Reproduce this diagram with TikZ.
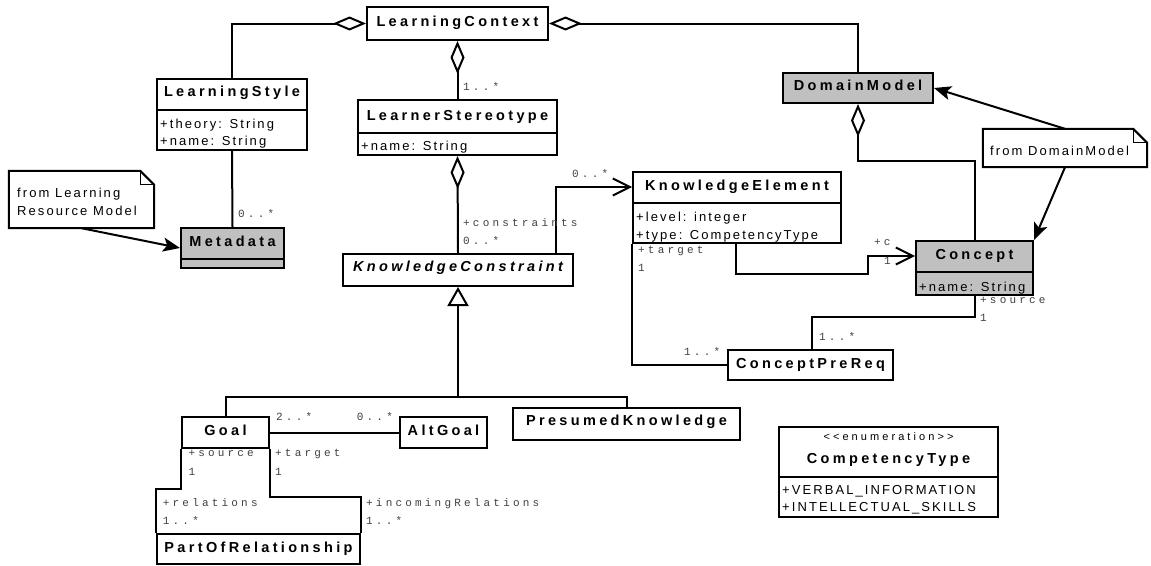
\documentclass[tikz,border=0pt]{standalone}
\usepackage{fontspec}
\usetikzlibrary{arrows.meta}
\newfontfamily\ttlfont[LetterSpace=23]{Liberation Sans}
\newfontfamily\attrfont[LetterSpace=16]{Liberation Sans}
\newfontfamily\notefont[LetterSpace=16]{Liberation Sans}
\newfontfamily\stereofont[LetterSpace=28]{Liberation Sans}
\newfontfamily\multfont[LetterSpace=29]{Liberation Mono}
\tikzset{
  cls/.style={draw, line width=2pt, inner sep=0pt, rectangle},
  grayfill/.style={fill={rgb,255:red,192;green,192;blue,192}},
  ttl/.style={anchor=base, inner sep=0pt, font=\ttlfont\bfseries\fontsize{14.5}{16}\selectfont},
  ttlit/.style={ttl, font=\ttlfont\bfseries\itshape\fontsize{14.5}{16}\selectfont},
  attr/.style={anchor=base west, inner sep=0pt, font=\attrfont\fontsize{13}{14}\selectfont},
  notetext/.style={anchor=base west, inner sep=0pt, font=\notefont\fontsize{13}{14}\selectfont},
  stereo/.style={anchor=base, inner sep=0pt, font=\stereofont\fontsize{11}{12}\selectfont},
  mult/.style={anchor=base west, inner sep=0pt, text=black!75, font=\multfont\fontsize{11}{12}\selectfont},
  conn/.style={line width=2pt},
  divider/.style={line width=2pt},
  aggr/.style={conn, {Diamond[open, length=33pt, width=14pt]}-},
  nav/.style={conn, -{Straight Barb[length=17pt, width=17pt]}},
  dep/.style={conn, -{Stealth[length=17pt, width=14pt, inset=4pt]}},
  gen/.style={conn, {Triangle[open, length=19pt, width=21pt]}-},
  noteanchor/.style={inner sep=0pt, rectangle},
  noteline/.style={line width=2pt, line join=miter},
  foldline/.style={line width=1pt},
}
\begin{document}
\begin{tikzpicture}[x=1pt, y=-1pt]
\fill[white] (0,0) rectangle (1151,565);
\useasboundingbox (0,0) rectangle (1151,565);

% ---- class boxes ----
\node[cls, minimum width=181pt, minimum height=33pt] (lc) at (457.5,23.5) {};
\node[cls, minimum width=150pt, minimum height=71pt] (ls) at (232,114.5) {};
\node[cls, minimum width=199pt, minimum height=55pt] (lst) at (457.5,127.5) {};
\node[cls, grayfill, minimum width=103pt, minimum height=40pt] (md) at (232.5,248) {};
\node[cls, minimum width=230pt, minimum height=32pt] (kc) at (458,270) {};
\node[cls, minimum width=208pt, minimum height=71pt] (ke) at (737,207.5) {};
\node[cls, grayfill, minimum width=150pt, minimum height=30pt] (dm) at (858,88) {};
\node[cls, grayfill, minimum width=117pt, minimum height=54pt] (co) at (974.5,268) {};
\node[cls, minimum width=165pt, minimum height=30pt] (cpr) at (810.5,365) {};
\node[cls, minimum width=87pt, minimum height=31pt] (goal) at (225.5,432.5) {};
\node[cls, minimum width=87pt, minimum height=31pt] (alt) at (443.5,432.5) {};
\node[cls, minimum width=227pt, minimum height=32pt] (pk) at (626.5,424) {};
\node[cls, minimum width=203pt, minimum height=30pt] (por) at (258.5,549) {};
\node[cls, minimum width=219pt, minimum height=90pt] (ct) at (888.5,472) {};

% compartment dividers
\draw[divider] (ls.west |- 0,110) -- (ls.east |- 0,110);
\draw[divider] (lst.west |- 0,133) -- (lst.east |- 0,133);
\draw[divider] (md.west |- 0,259) -- (md.east |- 0,259);
\draw[divider] (ke.west |- 0,203) -- (ke.east |- 0,203);
\draw[divider] (co.west |- 0,272) -- (co.east |- 0,272);
\draw[divider] (ct.west |- 0,477) -- (ct.east |- 0,477);

% ---- class texts ----
\node[ttl] (lc-t) at (457.5,26) {LearningContext};
\node[ttl] (ls-t) at (232,96.7) {LearningStyle};
\node[attr] (ls-a1) at (160,128.3) {+theory: String};
\node[attr] (ls-a2) at (160,145.7) {+name: String};
\node[ttl] (lst-t) at (457.5,120) {LearnerStereotype};
\node[attr] (lst-a1) at (361,150) {+name: String};
\node[ttl] (md-t) at (232.5,246) {Metadata};
\node[ttlit] (kc-t) at (458,271.7) {KnowledgeConstraint};
\node[ttl] (ke-t) at (737,190.7) {KnowledgeElement};
\node[attr] (ke-a1) at (636,221) {+level: integer};
\node[attr] (ke-a2) at (636,239.3) {+type: CompetencyType};
\node[ttl] (dm-t) at (858,90) {DomainModel};
\node[ttl] (co-t) at (974.5,259.3) {Concept};
\node[attr] (co-a1) at (919,291) {+name: String};
\node[ttl] (cpr-t) at (810.5,368.3) {ConceptPreReq};
\node[ttl] (goal-t) at (225.5,435) {Goal};
\node[ttl] (alt-t) at (443.5,435) {AltGoal};
\node[ttl] (pk-t) at (626.5,425) {PresumedKnowledge};
\node[ttl] (por-t) at (258.5,552.3) {PartOfRelationship};
\node[stereo] (ct-s) at (888.5,440) {<<enumeration>>};
\node[ttl] (ct-t) at (888.5,463.3) {CompetencyType};
\node[attr] (ct-a1) at (782,494) {+VERBAL\_INFORMATION};
\node[attr] (ct-a2) at (782,511.7) {+INTELLECTUAL\_SKILLS};

% ---- notes ----
\node[noteanchor, minimum width=145pt, minimum height=57pt] (n1) at (81.5,199.5) {};
\node[noteanchor, minimum width=164pt, minimum height=38pt] (n2) at (1065,148) {};
\foreach \n in {n1,n2}{
  \draw[noteline, fill=white] (\n.north west) -- ([xshift=-14pt]\n.north east)
    -- ([yshift=-14pt]\n.north east) -- (\n.south east) -- (\n.south west) -- cycle;
  \draw[foldline] ([xshift=-14pt]\n.north east) |- ([yshift=-14pt]\n.north east);
}
\node[notetext] (n1-a) at (17,197.7) {from Learning};
\node[notetext] (n1-b) at (17,215.7) {Resource Model};
\node[notetext] (n2-a) at (990,155.7) {from DomainModel};

% ---- aggregations ----
\draw[aggr] (lc.west) -| (ls.north);
\draw[aggr] (lc.east) -| (dm.north);
\draw[aggr] (lc.south) -- (lst.north);
\draw[aggr] (lst.south) -- (kc.north);
\draw[aggr] (dm.south) -- ++(0,57) -| (co.north);

% ---- associations ----
\draw[conn] (ls.south) -- (md.north);
\draw[nav] ([xshift=-18pt]kc.north east) |- ([yshift=-16pt]ke.north west);
\draw[nav] ([xshift=104pt]ke.south west) -- ++(0,30) -- ++(132,0) |- ([yshift=-16pt]co.north west);
\draw[conn] (ke.south west) |- (cpr.west);
\draw[conn] ([xshift=85pt]cpr.north west) -- ++(0,-32) -| (co.south);
\draw[conn] (goal.east) -- (alt.west);
\draw[conn] (goal.south west) -- ++(0,40) -| (por.north west);
\draw[conn] (goal.south east) -- ++(0,48) -| (por.north east);

% ---- generalization ----
\coordinate (gj) at ([yshift=-110pt]kc.south);
\draw[gen] (kc.south) -- (gj);
\draw[conn] (goal.north) |- (gj) -| (pk.north);

% ---- note links ----
\draw[dep] (n1.south) -- (md.west);
\draw[dep] (n2.north) -- (dm.east);
\draw[dep] (n2.south) -- (co.north east);

% ---- role names and multiplicities ----
\node[mult] (m1) at (463,90.7) {1..*};
\node[mult] (m2) at (463,226) {+constraints};
\node[mult] (m3) at (463,244) {0..*};
\node[mult] (m4) at (238,217.7) {0..*};
\node[mult] (m5) at (572,177) {0..*};
\node[mult] (m6) at (638,253) {+target};
\node[mult] (m7) at (638,271.7) {1};
\node[mult] (m8) at (874,245.7) {+c};
\node[mult] (m9) at (884,264) {1};
\node[mult] (m10) at (980,303) {+source};
\node[mult] (m11) at (980,321.7) {1};
\node[mult] (m12) at (684,355) {1..*};
\node[mult] (m13) at (819,340) {1..*};
\node[mult] (m14) at (276,420.7) {2..*};
\node[mult] (m15) at (356.7,420.7) {0..*};
\node[mult] (m16) at (188.3,456.7) {+source};
\node[mult] (m17) at (188.3,475.7) {1};
\node[mult] (m18) at (275,456.7) {+target};
\node[mult] (m19) at (275,475.7) {1};
\node[mult] (m20) at (162.7,506.7) {+relations};
\node[mult] (m21) at (162.7,524) {1..*};
\node[mult] (m22) at (366,506.7) {+incomingRelations};
\node[mult] (m23) at (366,524) {1..*};
\end{tikzpicture}
\end{document}
